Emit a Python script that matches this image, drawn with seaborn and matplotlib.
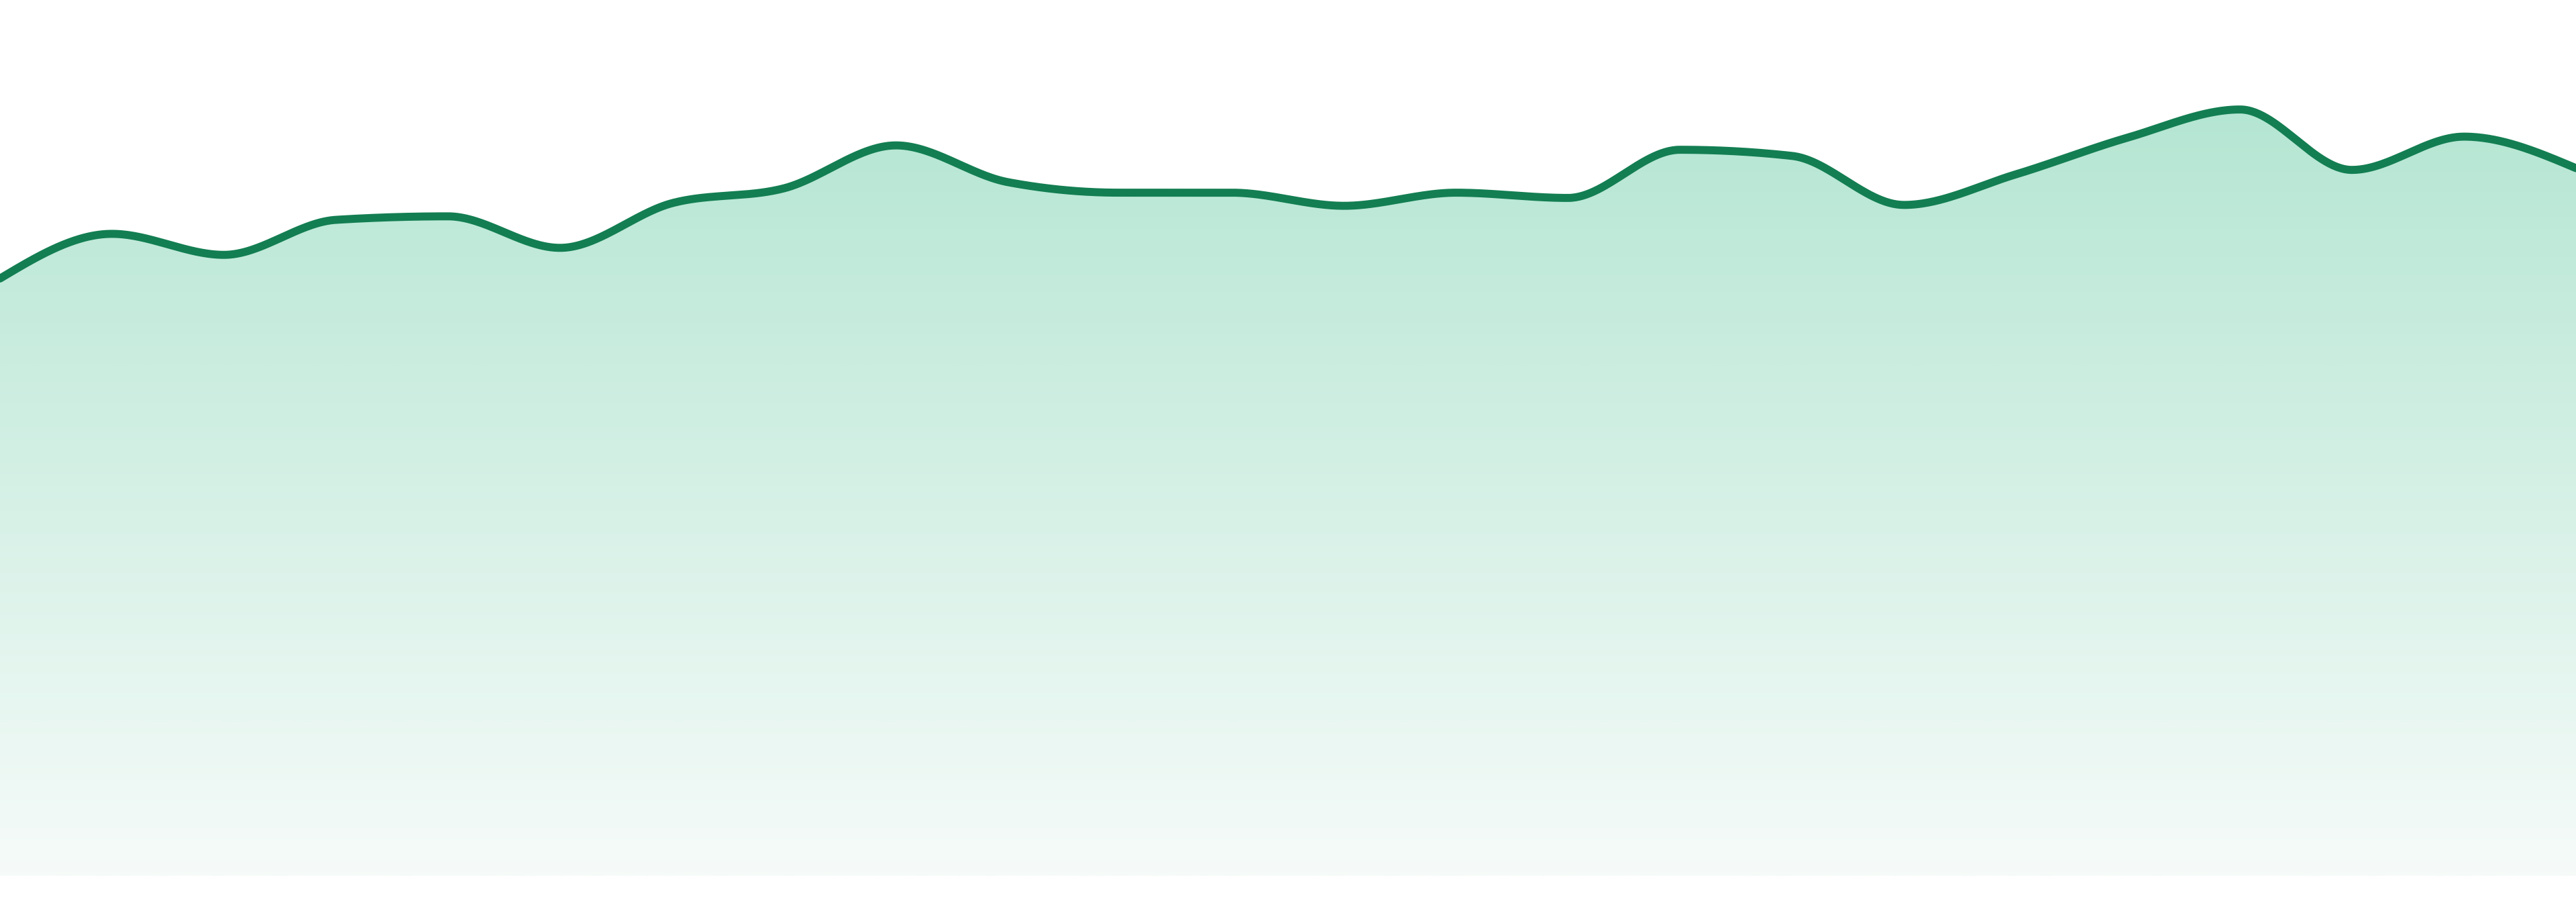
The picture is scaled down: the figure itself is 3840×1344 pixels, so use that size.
import numpy as np
import matplotlib
matplotlib.use("Agg")
import matplotlib.pyplot as plt
import seaborn as sns
import pandas as pd
from matplotlib.colors import LinearSegmentedColormap

# ---- data ----
points = list(range(24))
values = [68.2, 73.3, 70.9, 74.9, 75.3, 71.7, 76.8, 78.5, 83.4, 79.2,
          78.0, 78.0, 76.5, 78.0, 77.4, 82.9, 82.2, 76.6, 80.1, 84.3,
          87.5, 80.6, 84.4, 80.8]

line_color = "#137e52"
fill_top = "#b5e6d3"
fill_bottom = "#f6fbf9"


def monotone_curve(x, y, n=60):
    """Monotone cubic (d3 curveMonotoneX style) rendering of the series."""
    x = np.asarray(x, float)
    y = np.asarray(y, float)
    h = np.diff(x)
    s = np.diff(y) / h
    t = np.zeros_like(y)
    for i in range(1, len(y) - 1):
        s0, s1 = s[i - 1], s[i]
        h0, h1 = h[i - 1], h[i]
        p = (s0 * h1 + s1 * h0) / (h0 + h1)
        t[i] = (np.sign(s0) + np.sign(s1)) * min(abs(s0), abs(s1), 0.5 * abs(p))
    t[0] = (3 * s[0] - t[1]) / 2
    t[-1] = (3 * s[-1] - t[-2]) / 2
    xs, ys = [], []
    for i in range(len(x) - 1):
        u = np.linspace(0, 1, n, endpoint=(i == len(x) - 2))
        h00 = 2 * u**3 - 3 * u**2 + 1
        h10 = u**3 - 2 * u**2 + u
        h01 = -2 * u**3 + 3 * u**2
        h11 = u**3 - u**2
        xs.append(x[i] + u * h[i])
        ys.append(h00 * y[i] + h10 * h[i] * t[i] + h01 * y[i + 1] + h11 * h[i] * t[i + 1])
    return np.concatenate(xs), np.concatenate(ys)


cx, cy = monotone_curve(points, values)
curve = pd.DataFrame({"x": cx, "y": cy})

sns.set_theme(style="white")
fig = plt.figure(figsize=(38.4, 13.44), dpi=100)
fig.patch.set_facecolor("white")
ax = fig.add_axes([0, 39 / 1344, 1, 1305 / 1344])
ax.set_xlim(min(points), max(points))
ax.set_ylim(0, 100)
ax.axis("off")

# gradient fill clipped to the area under the curve
top_v = max(values)
grad_y = np.linspace(0, 100, 600)
frac = np.clip(grad_y / top_v, 0, 1)
cmap = LinearSegmentedColormap.from_list("g", [fill_bottom, fill_top])
img = ax.imshow(frac[:, None], origin="lower", aspect="auto", cmap=cmap,
                extent=[min(points), max(points), 0, 100], vmin=0, vmax=1,
                interpolation="bilinear", zorder=1)
poly = ax.fill_between(curve["x"], curve["y"], 0, color="none", linewidth=0)
img.set_clip_path(poly.get_paths()[0], transform=ax.transData)

sns.lineplot(data=curve, x="x", y="y", ax=ax, color=line_color,
             linewidth=8.6, sort=False, estimator=None, zorder=3)
ax.set_xlim(min(points), max(points))
ax.set_ylim(0, 100)
ax.axis("off")

fig.savefig("out.png", dpi=100, facecolor="white")
